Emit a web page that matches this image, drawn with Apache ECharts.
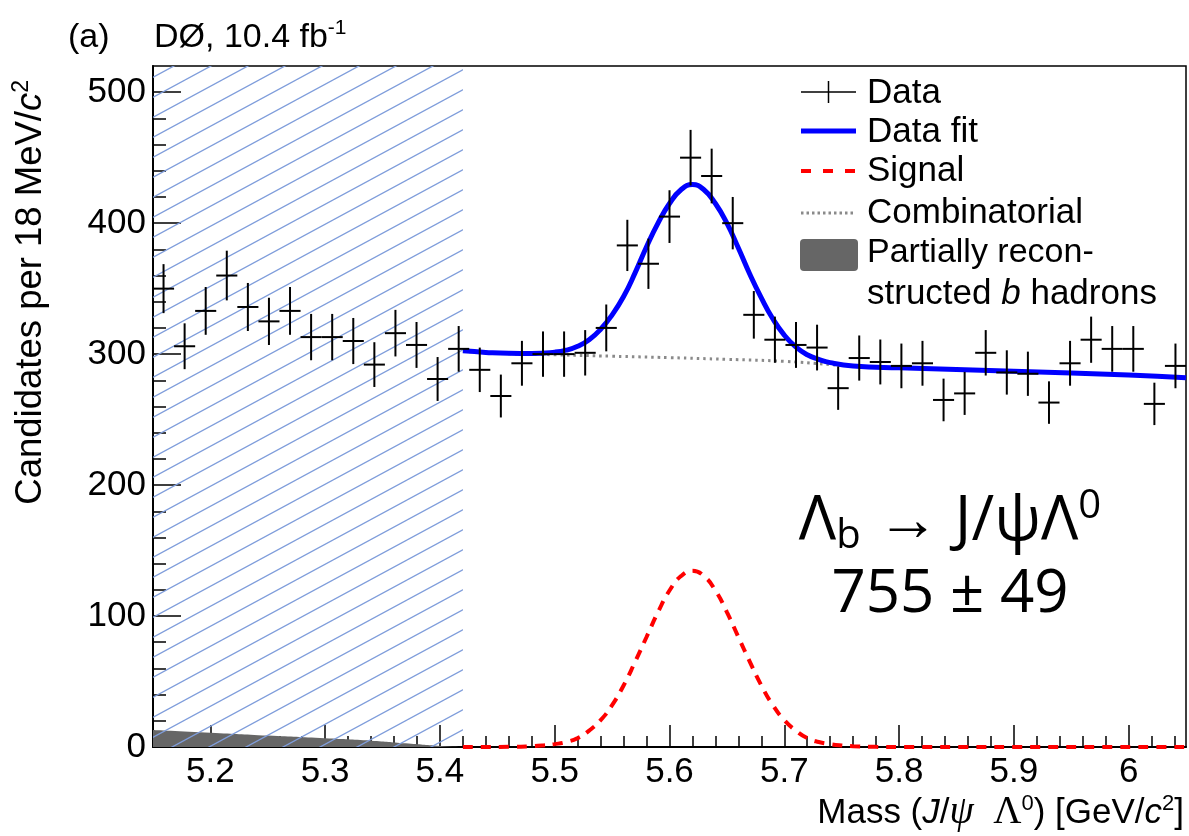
<!DOCTYPE html>
<html>
<head>
<meta charset="utf-8">
<script src="https://cdn.jsdelivr.net/npm/echarts@6/dist/echarts.min.js"></script>
<style>
  html, body { margin: 0; padding: 0; background: #fff; }
  #chart { width: 1189px; height: 836px; }
</style>
</head>
<body>
<div id="chart"></div>
<script>
// Invariant-mass spectrum of J/psi Lambda0 candidates with the fit components.

// Histogram binning (GeV/c^2)
const BIN_START = 5.15;
const BIN_END = 6.05;
// Candidates per bin
const counts = [
  350, 306, 333, 360, 336, 325, 333, 313, 313, 310,
  292, 316, 307, 281, 304, 288, 268, 293, 300, 300,
  301, 320, 383, 369, 405, 450, 436, 400, 330, 311,
  307, 305, 274, 297, 294, 291, 293, 265, 270, 301,
  286, 285, 263, 293, 311, 304, 304, 262, 291
];
const BIN_WIDTH = (BIN_END - BIN_START) / counts.length;

// Mass window excluded from the fit (hatched)
const excludedRange = [5.15, 5.42];

// Full fit (blue)
const fitMass = [5.42, 5.44, 5.46, 5.48, 5.50, 5.51, 5.52, 5.53, 5.54, 5.55, 5.56, 5.57, 5.58, 5.59, 5.60,
                 5.61, 5.62, 5.63, 5.64, 5.65, 5.66, 5.67, 5.68, 5.69, 5.70, 5.71, 5.72, 5.73, 5.74,
                 5.76, 5.80, 5.90, 6.00, 6.05];
const fitValues = [302.5, 301.3, 300.6, 300.5, 301.5, 303, 306, 311, 319, 330, 344, 362, 382, 400, 415,
                   425.5, 429.5, 425.5, 415, 400, 381, 361, 343, 327, 314.5, 305.5, 299.5, 296, 293.5,
                   291, 289.5, 287, 284, 282];

// Signal component (red dashed)
const signalMass = [5.42, 5.46, 5.48, 5.49, 5.50, 5.51, 5.52, 5.53, 5.54, 5.55, 5.56, 5.57, 5.58, 5.59, 5.60,
                    5.61, 5.62, 5.63, 5.64, 5.65, 5.66, 5.67, 5.68, 5.69, 5.70, 5.71, 5.72, 5.73, 5.74,
                    5.75, 5.76, 5.78, 5.80, 6.05];
const signalValues = [0, 0.1, 0.6, 1.2, 2.2, 3.8, 6.8, 12.5, 20.5, 32, 47, 65, 84, 103, 119.5,
                      130.5, 134.5, 130.5, 119.5, 103, 84, 65, 47, 32, 20.5, 12.5, 6.8, 3.8, 2.2,
                      1.2, 0.6, 0.1, 0, 0];

// Combinatorial background (grey dotted)
const combMass = [5.42, 5.44, 5.46, 5.50, 5.55, 5.60, 5.65, 5.70, 5.75, 5.80, 5.90, 6.00, 6.05];
const combValues = [302.3, 301, 300.3, 299.5, 298.4, 297.3, 296, 294.5, 291.5, 289.8, 287, 284, 282];

// Partially reconstructed b hadrons (grey fill)
const partRecoMass = [5.15, 5.20, 5.25, 5.30, 5.34, 5.37, 5.40, 5.42];
const partRecoValues = [13, 10.9, 8.7, 6.6, 4.8, 2.8, 0.8, 0];

// Axis ticks
const xMajorTicks = [5.2, 5.3, 5.4, 5.5, 5.6, 5.7, 5.8, 5.9, 6.0];
const yMajorTicks = [0, 100, 200, 300, 400, 500];
const Y_MAX = 520;

const xMinorTicks = [];
for (let k = 258; k <= 302; k++) xMinorTicks.push(Math.round(k * 2) / 100);
const yMinorTicks = [];
for (let v = 20; v <= 500; v += 20) yMinorTicks.push(v);

const FONT = '"Liberation Sans", Arial, Helvetica, sans-serif';
const SERIF = '"Liberation Serif", "DejaVu Serif", serif';
const BIG_FONT = '"Open Sans", "Noto Sans", sans-serif';

function hatchPattern() {
  const w = 37, h = 20;
  const c = document.createElement('canvas');
  c.width = w; c.height = h;
  const g = c.getContext('2d');
  g.strokeStyle = '#7f9ddb';
  g.lineWidth = 1.3;
  g.beginPath();
  for (const dx of [-w, 0, w]) {
    for (const dy of [-h, 0, h]) {
      g.moveTo(dx, h + dy);
      g.lineTo(w + dx, dy);
    }
  }
  g.stroke();
  return { image: c, repeat: 'repeat' };
}
const hatchFill = hatchPattern();

const pairs = (xs, ys) => xs.map((x, i) => [x, ys[i]]);
const histPoints = counts.map((n, i) => [BIN_START + (i + 0.5) * BIN_WIDTH, n, Math.sqrt(n)]);

const chart = echarts.init(document.getElementById('chart'), null, { renderer: 'canvas' });

const sup = (size) => ({ fontSize: size, lineHeight: size, verticalAlign: 'top', fontFamily: FONT, fill: '#000' });

const option = {
  animation: false,
  backgroundColor: '#fff',
  grid: {
    left: 153, right: 3, top: 66, bottom: 89,
    show: true, borderColor: '#000', borderWidth: 1.5,
    backgroundColor: 'transparent',
    outerBoundsMode: 'none'
  },
  xAxis: [
    {
      type: 'value', min: BIN_START, max: BIN_END, position: 'bottom',
      axisLine: { show: true, lineStyle: { color: '#000', width: 2 } },
      axisTick: { show: true, inside: true, length: 22, customValues: xMajorTicks, lineStyle: { color: '#000', width: 1.5 } },
      axisLabel: { show: true, customValues: xMajorTicks, margin: 8, color: '#000', fontSize: 35, fontFamily: FONT },
      splitLine: { show: false }
    },
    {
      type: 'value', min: BIN_START, max: BIN_END, position: 'bottom',
      axisLine: { show: false },
      axisTick: { show: true, inside: true, length: 11, customValues: xMinorTicks, lineStyle: { color: '#000', width: 1.5 } },
      axisLabel: { show: false },
      splitLine: { show: false }
    }
  ],
  yAxis: [
    {
      type: 'value', min: 0, max: Y_MAX, position: 'left',
      axisLine: { show: true, lineStyle: { color: '#000', width: 2 } },
      axisTick: { show: true, inside: true, length: 28, customValues: yMajorTicks, lineStyle: { color: '#000', width: 1.5 } },
      axisLabel: { show: true, customValues: yMajorTicks, margin: 7, color: '#000', fontSize: 35, fontFamily: FONT },
      splitLine: { show: false }
    },
    {
      type: 'value', min: 0, max: Y_MAX, position: 'left',
      axisLine: { show: false },
      axisTick: { show: true, inside: true, length: 13, customValues: yMinorTicks, lineStyle: { color: '#000', width: 1.5 } },
      axisLabel: { show: false },
      splitLine: { show: false }
    }
  ],
  series: [
    {
      name: 'Partially reconstructed b hadrons', type: 'line',
      data: pairs(partRecoMass, partRecoValues), smooth: true, symbol: 'none',
      lineStyle: { width: 0 }, areaStyle: { color: '#666666', opacity: 1 }, z: 1, silent: true
    },
    {
      name: 'Excluded', type: 'custom', data: [excludedRange], z: 2, silent: true,
      renderItem: (params, api) => {
        const p0 = api.coord([api.value(0), Y_MAX]);
        const p1 = api.coord([api.value(1), 0]);
        return {
          type: 'rect',
          shape: { x: p0[0], y: p0[1], width: p1[0] - p0[0], height: p1[1] - p0[1] },
          style: { fill: hatchFill, stroke: null }
        };
      }
    },
    {
      name: 'Combinatorial', type: 'line', data: pairs(combMass, combValues), smooth: true, symbol: 'none',
      lineStyle: { color: '#8a8a8a', width: 3, type: [2.5, 4] }, z: 3, silent: true
    },
    {
      name: 'Signal', type: 'line', data: pairs(signalMass, signalValues), smooth: true, symbol: 'none',
      lineStyle: { color: '#ff0000', width: 4, type: [10, 8] }, z: 4, silent: true
    },
    {
      name: 'Data fit', type: 'line', data: pairs(fitMass, fitValues), smooth: true, symbol: 'none',
      lineStyle: { color: '#0000ff', width: 5 }, z: 5, silent: true
    },
    {
      name: 'Data', type: 'custom', data: histPoints, z: 6, silent: true,
      encode: { x: 0, y: 1 },
      renderItem: (params, api) => {
        const x = api.value(0), y = api.value(1), e = api.value(2);
        const l = api.coord([x - BIN_WIDTH / 2, y]);
        const r = api.coord([x + BIN_WIDTH / 2, y]);
        const t = api.coord([x, y + e]);
        const b = api.coord([x, y - e]);
        const st = { stroke: '#000', lineWidth: 2 };
        return {
          type: 'group',
          children: [
            { type: 'line', shape: { x1: l[0], y1: l[1], x2: r[0], y2: r[1] }, style: st },
            { type: 'line', shape: { x1: t[0], y1: t[1], x2: b[0], y2: b[1] }, style: st }
          ]
        };
      }
    }
  ],
  graphic: [
    // Panel label and experiment
    { type: 'text', x: 68, y: 38, style: { text: '(a)', fontSize: 34, fontFamily: FONT, fill: '#000', verticalAlign: 'middle' } },
    {
      type: 'text', x: 154, y: 38,
      style: {
        text: '{n|DØ, 10.4 fb}{s|-1}', verticalAlign: 'middle',
        rich: { n: { fontSize: 34, lineHeight: 40, fontFamily: FONT, fill: '#000' }, s: sup(21) }
      }
    },
    // Y-axis title
    {
      type: 'text', x: 31, y: 80, rotation: Math.PI / 2,
      style: {
        text: '{n|Candidates per 18 MeV/}{i|c}{s|2}', align: 'right', verticalAlign: 'middle',
        rich: {
          n: { fontSize: 36.5, lineHeight: 42, fontFamily: FONT, fill: '#000' },
          i: { fontSize: 36.5, lineHeight: 42, fontFamily: FONT, fontStyle: 'italic', fill: '#000' },
          s: sup(23)
        }
      }
    },
    // X-axis title
    {
      type: 'text', x: 1184, y: 813,
      style: {
        text: '{n|Mass (}{i|J}{n|/}{g|ψ}{n|  }{G|Λ}{s|0}{n|) [GeV/}{i|c}{s|2}{n|]}',
        align: 'right', verticalAlign: 'middle',
        rich: {
          n: { fontSize: 35, lineHeight: 40, fontFamily: FONT, fill: '#000' },
          i: { fontSize: 35, lineHeight: 40, fontFamily: FONT, fontStyle: 'italic', fill: '#000' },
          g: { fontSize: 39, lineHeight: 40, fontFamily: SERIF, fontStyle: 'italic', fill: '#000' },
          G: { fontSize: 39, lineHeight: 40, fontFamily: SERIF, fill: '#000' },
          s: sup(22)
        }
      }
    },
    // Legend
    { type: 'line', shape: { x1: 801, y1: 92, x2: 856, y2: 92 }, style: { stroke: '#000', lineWidth: 1.5 } },
    { type: 'line', shape: { x1: 828.5, y1: 81, x2: 828.5, y2: 103 }, style: { stroke: '#000', lineWidth: 1.5 } },
    { type: 'line', shape: { x1: 801, y1: 131, x2: 856, y2: 131 }, style: { stroke: '#0000ff', lineWidth: 5 } },
    { type: 'line', shape: { x1: 801, y1: 171, x2: 856, y2: 171 }, style: { stroke: '#ff0000', lineWidth: 4, lineDash: [10, 12] } },
    { type: 'line', shape: { x1: 801, y1: 213, x2: 856, y2: 213 }, style: { stroke: '#8a8a8a', lineWidth: 3, lineDash: [2.5, 3] } },
    { type: 'rect', shape: { x: 800, y: 239, width: 58, height: 32, r: 4 }, style: { fill: '#666666' } },
    { type: 'text', x: 867, y: 93, style: { text: 'Data', fontSize: 35, fontFamily: FONT, fill: '#000', verticalAlign: 'middle' } },
    { type: 'text', x: 867, y: 132, style: { text: 'Data fit', fontSize: 35, fontFamily: FONT, fill: '#000', verticalAlign: 'middle' } },
    { type: 'text', x: 867, y: 171, style: { text: 'Signal', fontSize: 35, fontFamily: FONT, fill: '#000', verticalAlign: 'middle' } },
    { type: 'text', x: 867, y: 213, style: { text: 'Combinatorial', fontSize: 35, fontFamily: FONT, fill: '#000', verticalAlign: 'middle' } },
    { type: 'text', x: 867, y: 253, style: { text: 'Partially recon-', fontSize: 34, fontFamily: FONT, fill: '#000', verticalAlign: 'middle' } },
    {
      type: 'text', x: 867, y: 294,
      style: {
        text: '{n|structed }{i|b}{n| hadrons}', verticalAlign: 'middle',
        rich: {
          n: { fontSize: 35, lineHeight: 40, fontFamily: FONT, fill: '#000' },
          i: { fontSize: 35, lineHeight: 40, fontFamily: FONT, fontStyle: 'italic', fill: '#000' }
        }
      }
    },
    // Decay channel and signal yield
    {
      type: 'text', x: 950, y: 522,
      style: {
        text: '{n|Λ}{b|b}{n| → J/ψΛ}{s|0}', align: 'center', verticalAlign: 'middle',
        rich: {
          n: { fontSize: 62, lineHeight: 70, fontFamily: BIG_FONT, fill: '#000' },
          b: { fontSize: 40, lineHeight: 38, verticalAlign: 'bottom', fontFamily: BIG_FONT, fill: '#000' },
          s: { fontSize: 40, lineHeight: 40, verticalAlign: 'top', fontFamily: BIG_FONT, fill: '#000' }
        }
      }
    },
    {
      type: 'text', x: 950, y: 595,
      style: { text: '755 ± 49', align: 'center', verticalAlign: 'middle', fontSize: 60, fontWeight: 500, fontFamily: BIG_FONT, fill: '#000' }
    }
  ]
};

chart.setOption(option);
</script>
</body>
</html>
